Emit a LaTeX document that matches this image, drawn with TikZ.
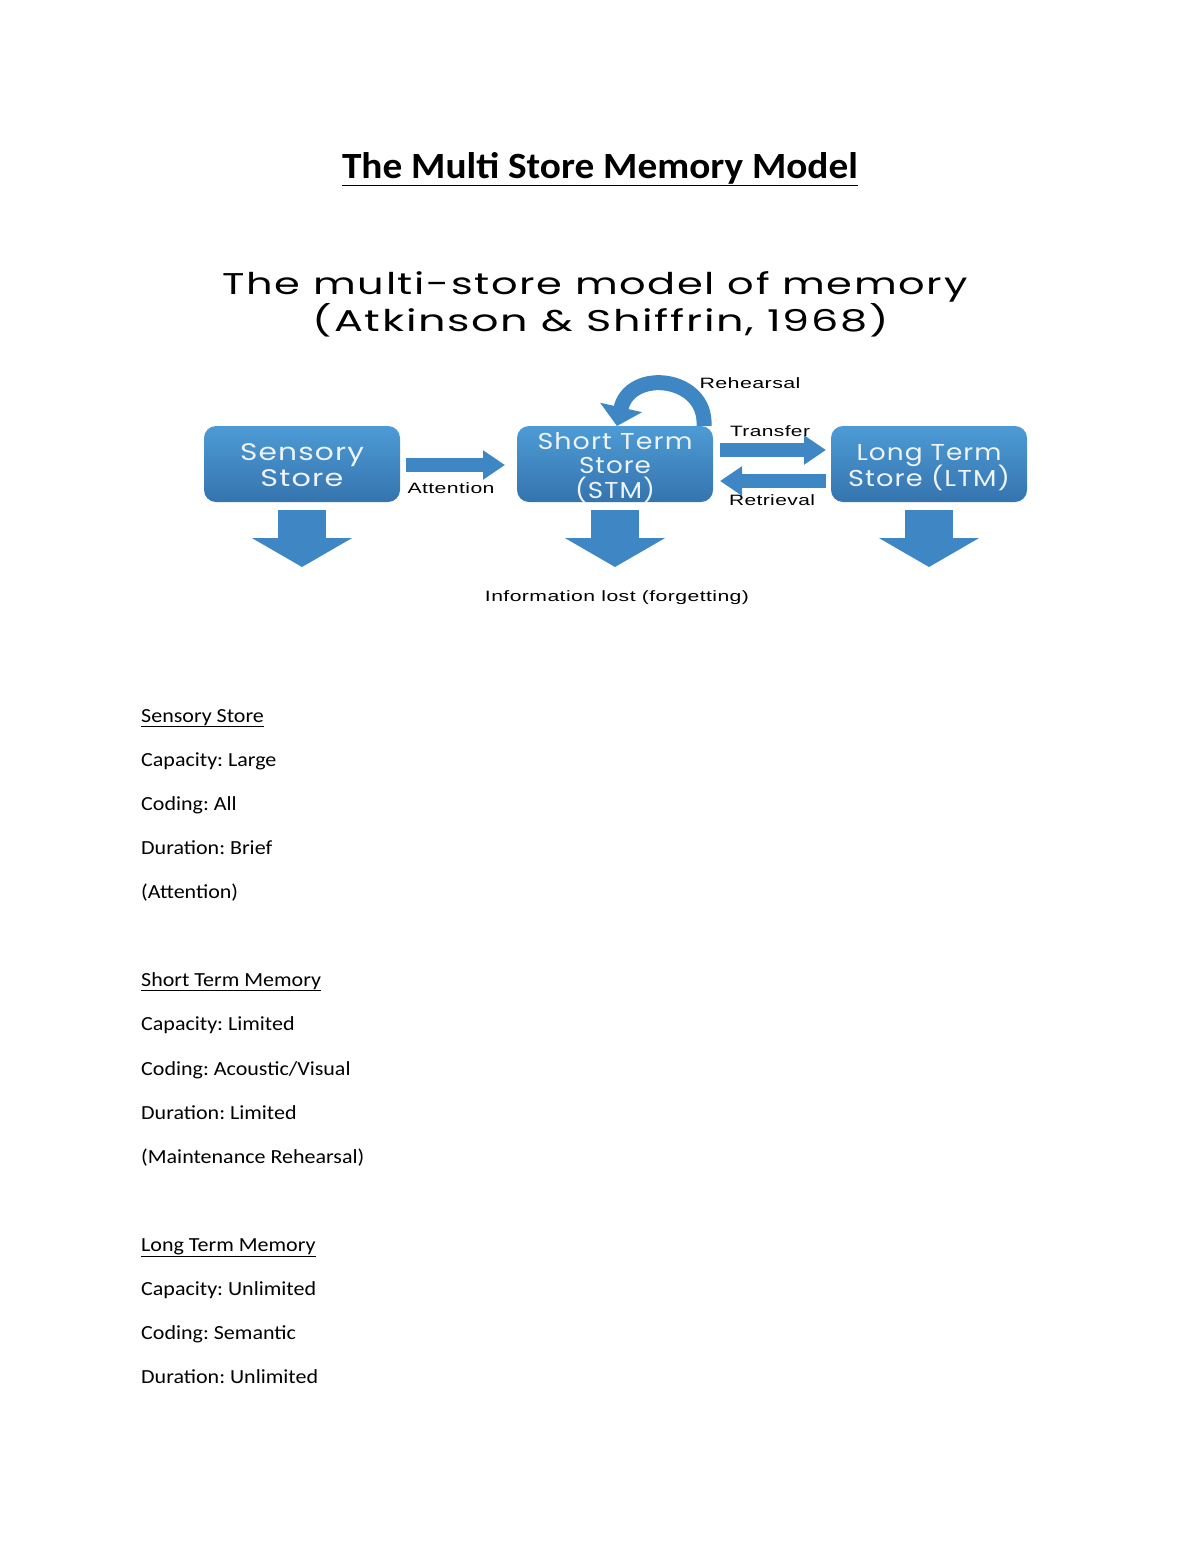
\documentclass[tikz,border=0pt]{standalone}
\usepackage{graphicx}
\usepackage{fontspec}
\setmainfont{Carlito}
\newfontfamily\gothic[LetterSpace=4]{Poppins}
\newfontfamily\arialf[LetterSpace=2]{Liberation Sans}
\usetikzlibrary{arrows.meta}
\definecolor{boxtop}{HTML}{4D9BD6}
\definecolor{boxbot}{HTML}{3574AE}
\definecolor{arrowblue}{HTML}{3E87C4}
\definecolor{boxtext}{HTML}{EEF3F8}
\newcommand\fitw[2]{\resizebox{#1}{\height}{#2}}
\newcommand\wider[1]{\scalebox{1.1}[1]{#1}}
\newcommand\shiftdown[2]{\raisebox{-#1}[\height][\depth]{#2}}
\tikzset{
  store/.style={minimum width=196pt, minimum height=76pt, rounded corners=12pt,
    top color=boxtop, bottom color=boxbot, text=boxtext, align=center,
    inner sep=0pt},
  flowarrow/.style={line width=14pt, draw=arrowblue, -{Triangle[width=28pt,length=22pt]}},
  downarrow/.style={line width=48pt, draw=arrowblue, -{Triangle[width=99pt,length=29pt]}},
  lbl/.style={font=\arialf\fontsize{15}{17}\selectfont, inner sep=0pt},
  body/.style={anchor=base west, font=\frenchspacing\fontsize{20}{24}\selectfont, inner sep=0pt},
}
\begin{document}
\begin{tikzpicture}[x=1pt,y=-1pt]
\useasboundingbox (0,0) rectangle (1200,1553);
% page title
\node[anchor=base, inner sep=0pt, font=\bfseries\fontsize{37}{40}\selectfont] (title) at (600,178) {\fitw{516pt}{\underline{The Multi Store Memory Model}}};
% diagram title
\node[anchor=base, inner sep=0pt, font=\gothic\fontsize{30}{34}\selectfont] (dt1) at (595,294) {\fitw{745pt}{The multi-store model of memory}};
\node[anchor=base, inner sep=0pt, font=\gothic\fontsize{30}{34}\selectfont] (dt2) at (601,331) {\fitw{576pt}{(Atkinson \& Shiffrin, 1968)}};
% boxes
\node[store, font=\gothic\fontsize{24}{26}\selectfont] (sens) at (302,464)
  {\shiftdown{4pt}{\begin{tabular}{@{}c@{}}\fitw{124pt}{Sensory}\\\fitw{83pt}{Store}\end{tabular}}};
\node[store, font=\gothic\fontsize{23}{24}\selectfont] (stm) at (615,464)
  {\shiftdown{5pt}{\begin{tabular}{@{}c@{}}\fitw{155pt}{Short Term}\\\fitw{72pt}{Store}\\[-4pt]\fitw{80pt}{(STM)}\end{tabular}}};
\node[store, font=\gothic\fontsize{23}{23}\selectfont] (ltm) at (929,464)
  {\shiftdown{5pt}{\begin{tabular}{@{}c@{}}\fitw{145pt}{Long Term}\\[-3pt]\fitw{162pt}{Store (LTM)}\end{tabular}}};
% attention
\coordinate (a1) at (406,465);
\coordinate (a2) at (505,465);
\draw[flowarrow] (a1) -- (a2);
\node[lbl] (att) at (451,488) {\fitw{87pt}{Attention}};
% transfer / retrieval
\coordinate (t1) at (720,450);
\coordinate (t2) at (826,450);
\draw[flowarrow] (t1) -- (t2);
\node[lbl] (tr) at (770,431) {\fitw{80pt}{Transfer}};
\coordinate (r1) at (826,481);
\coordinate (r2) at (720,481);
\draw[flowarrow] (r1) -- (r2);
\node[lbl] (ret) at (772,500) {\fitw{86pt}{Retrieval}};
% rehearsal loop
\coordinate (h1) at (704,426);
\coordinate (h2) at (617,426);
\draw[line width=15pt, draw=arrowblue, -{Triangle[width=42pt,length=19pt]}] (h1) .. controls (707,376) and (630,368) .. (h2);
\node[lbl] (reh) at (750,383) {\fitw{101pt}{Rehearsal}};
% down arrows
\coordinate (d1) at (302,567);
\coordinate (d2) at (615,567);
\coordinate (d3) at (929,567);
\draw[downarrow] ([yshift=-8pt]sens.south) -- (d1);
\draw[downarrow] ([yshift=-8pt]stm.south) -- (d2);
\draw[downarrow] ([yshift=-8pt]ltm.south) -- (d3);
\node[lbl] (lost) at (617,598) {\fitw{264pt}{Information lost (forgetting)}};
% notes
\node[body] (s0) at (141,722) {\wider{\underline{Sensory Store}}};
\node[body] (s1) at (141,766) {\wider{Capacity: Large}};
\node[body] (s2) at (141,810) {\wider{Coding: All}};
\node[body] (s3) at (141,854) {\wider{Duration: Brief}};
\node[body] (s4) at (141,898) {\wider{(Attention)}};
\node[body] (m0) at (141,986) {\wider{\underline{Short Term Memory}}};
\node[body] (m1) at (141,1030) {\wider{Capacity: Limited}};
\node[body] (m2) at (141,1075) {\wider{Coding: Acoustic/Visual}};
\node[body] (m3) at (141,1119) {\wider{Duration: Limited}};
\node[body] (m4) at (141,1163) {\wider{(Maintenance Rehearsal)}};
\node[body] (l0) at (141,1251) {\wider{\underline{Long Term Memory}}};
\node[body] (l1) at (141,1295) {\wider{Capacity: Unlimited}};
\node[body] (l2) at (141,1339) {\wider{Coding: Semantic}};
\node[body] (l3) at (141,1383) {\wider{Duration: Unlimited}};
\end{tikzpicture}
\end{document}
